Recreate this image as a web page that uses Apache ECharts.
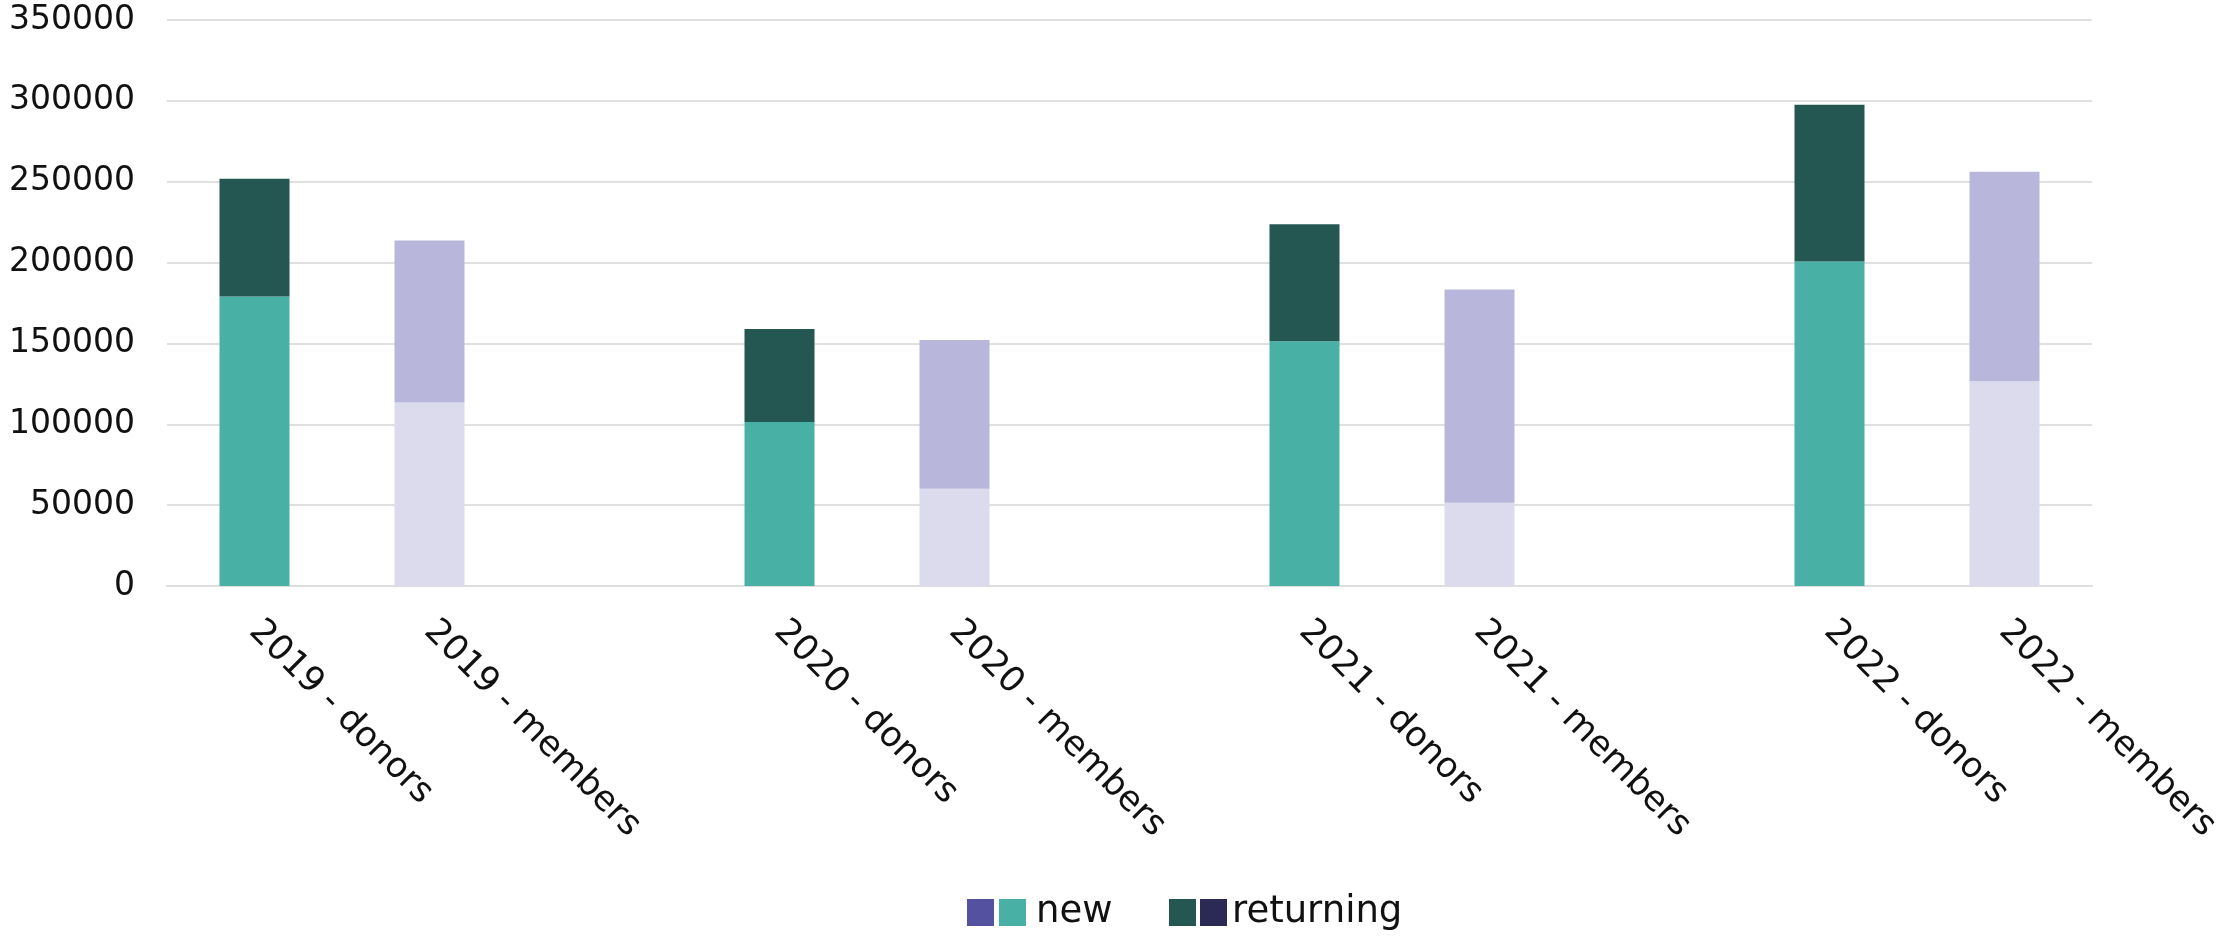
<!DOCTYPE html>
<html>
<head>
<meta charset="utf-8">
<script src="https://cdn.jsdelivr.net/npm/echarts@6/dist/echarts.min.js"></script>
<style>
html,body{margin:0;padding:0;background:#fff;}
#chart{width:2229px;height:937px;}
</style>
</head>
<body>
<div id="chart"></div>
<script>
const years = ['2019', '2020', '2021', '2022'];
const donorsNew = [179000, 101400, 151300, 200600];
const donorsReturning = [72900, 57450, 72460, 96930];
const membersNew = [113450, 60080, 51440, 126540];
const membersReturning = [100200, 91980, 131890, 129630];
const yTicks = [0, 50000, 100000, 150000, 200000, 250000, 300000, 350000];

const categories = [];
const dNew = [], dRet = [], mNew = [], mRet = [];
years.forEach((y, i) => {
  categories.push(y + ' - donors');
  dNew.push(donorsNew[i]); dRet.push(donorsReturning[i]); mNew.push('-'); mRet.push('-');
  categories.push(y + ' - members');
  dNew.push('-'); dRet.push('-'); mNew.push(membersNew[i]); mRet.push(membersReturning[i]);
  if (i < years.length - 1) {
    categories.push('');
    dNew.push('-'); dRet.push('-'); mNew.push('-'); mRet.push('-');
  }
});

const FONT = 'DejaVu Sans';
const labelMap = {'new ': '', 'new': 'new', 'returning': '', 'returning ': 'returning'};

const chart = echarts.init(document.getElementById('chart'), null, {renderer: 'canvas'});
chart.setOption({
  backgroundColor: '#ffffff',
  animation: false,
  textStyle: {fontFamily: FONT},
  grid: {left: 167, right: 137, top: 20, bottom: 351, containLabel: false},
  legend: [
    {
      left: 962, top: 889, itemWidth: 27, itemHeight: 27, itemGap: 5,
      icon: 'rect', selectedMode: false,
      data: [
        {name: 'new ', itemStyle: {color: '#5451a0'}},
        {name: 'new', itemStyle: {color: '#49b0a5'}}
      ],
      formatter: n => labelMap[n],
      textStyle: {fontFamily: FONT, fontSize: 37, color: '#111', padding: [0, 0, 0, 5]}
    },
    {
      left: 1164, top: 889, itemWidth: 27, itemHeight: 27, itemGap: 4,
      icon: 'rect', selectedMode: false,
      data: [
        {name: 'returning', itemStyle: {color: '#245751'}},
        {name: 'returning ', itemStyle: {color: '#2b2a55'}}
      ],
      formatter: n => labelMap[n],
      textStyle: {fontFamily: FONT, fontSize: 37, color: '#111', padding: [0, 0, 0, 0]}
    }
  ],
  xAxis: {
    type: 'category',
    data: categories,
    axisTick: {show: false},
    axisLine: {lineStyle: {color: '#dedede', width: 2}},
    axisLabel: {
      interval: 0, rotate: -45, margin: 40,
      fontFamily: FONT, fontSize: 35, color: '#111'
    }
  },
  yAxis: {
    type: 'value',
    min: 0, max: 350000, interval: 50000,
    axisLine: {show: false},
    axisTick: {show: false},
    splitLine: {lineStyle: {color: '#e0e0e0', width: 2}},
    axisLabel: {
      margin: 32, fontFamily: FONT, fontSize: 33, color: '#111',
      formatter: v => yTicks.includes(v) ? String(v) : ''
    }
  },
  series: [
    {name: 'new', type: 'bar', stack: 'total', barWidth: 70, data: dNew, itemStyle: {color: '#49b0a5'}},
    {name: 'new ', type: 'bar', stack: 'total', barWidth: 70, data: mNew, itemStyle: {color: '#dcdbed'}},
    {name: 'returning', type: 'bar', stack: 'total', barWidth: 70, data: dRet, itemStyle: {color: '#245751'}},
    {name: 'returning ', type: 'bar', stack: 'total', barWidth: 70, data: mRet, itemStyle: {color: '#b8b7db'}}
  ]
});
</script>
</body>
</html>
